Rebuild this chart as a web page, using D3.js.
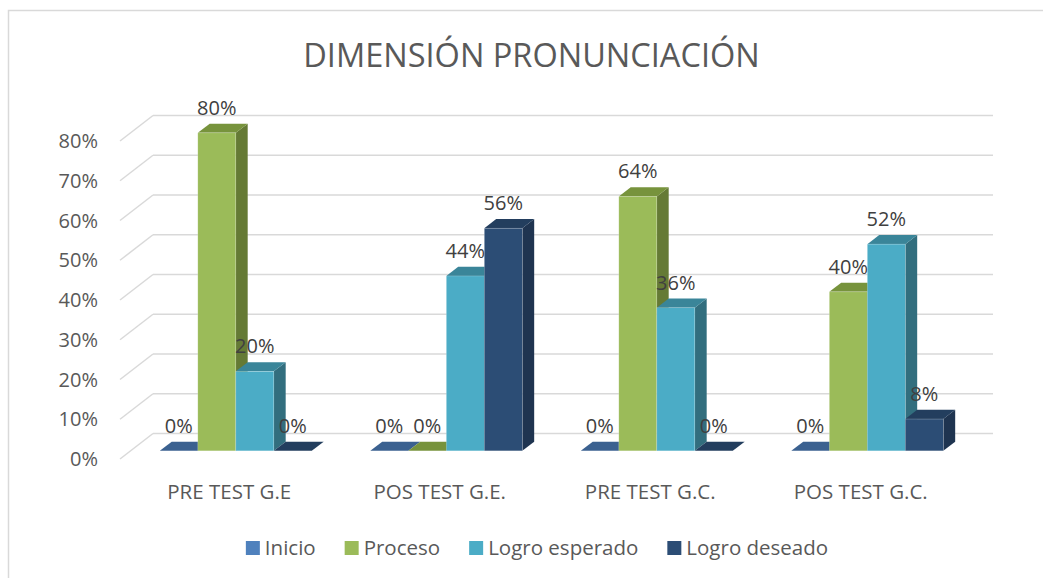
<!DOCTYPE html>
<html>
<head>
<meta charset="utf-8">
<script src="https://cdn.jsdelivr.net/npm/d3@7"></script>
<style>
  body{margin:0;background:#fff;}
  svg text{font-family:"Open Sans",sans-serif;}
</style>
</head>
<body>
<div id="chart"></div>
<script>
// data
var categories = ["PRE TEST G.E", "POS TEST G.E.", "PRE TEST G.C.", "POS TEST G.C."];
var seriesNames = ["Inicio", "Proceso", "Logro esperado", "Logro deseado"];
var inicio        = [0, 0, 0, 0];
var proceso       = [0.80, 0, 0.64, 0.40];
var logroEsperado = [0.20, 0.44, 0.36, 0.52];
var logroDeseado  = [0, 0.56, 0, 0.08];
var yTicks = [0, 0.1, 0.2, 0.3, 0.4, 0.5, 0.6, 0.7, 0.8];

var seriesValues = [inicio, proceso, logroEsperado, logroDeseado];
// front, top, side
var colors = [
    ["#4F81BD", "#3B6190", "#2F4F75"],
    ["#9BBB59", "#77933C", "#657A35"],
    ["#4BACC6", "#3A8599", "#326E7E"],
    ["#2C4D75", "#233E5E", "#1F3450"]
];

var width = 1043, height = 578;
var depthX = 33, depthY = -25.5;     // full floor depth
var barZ0 = 0.32, barZ1 = 0.68;      // bar front / back in depth

var svg = d3.select("#chart").append("svg")
    .attr("width", width).attr("height", height);

// chart border
svg.append("rect")
    .attr("x", 8.5).attr("y", 10.5)
    .attr("width", 1100).attr("height", 600)
    .attr("fill", "none").attr("stroke", "#d9d9d9").attr("stroke-width", 1.5);

// title
svg.append("text")
    .attr("x", 531.5).attr("y", 67)
    .attr("text-anchor", "middle")
    .attr("font-size", 32.5)
    .attr("fill", "#595959")
    .text("DIMENSIÓN PRONUNCIACIÓN");

var x0 = d3.scaleBand().domain(categories).range([120, 962]);
var x1 = d3.scaleBand().domain(seriesNames).range([0, x0.bandwidth()]).paddingOuter(0.77);
var y = d3.scaleLinear().domain([0, 0.8]).range([459, 141]);

// walls: side wall diagonals + back wall horizontals
var grid = svg.append("g");
yTicks.forEach(function(t){
    grid.append("line")
        .attr("x1", 120).attr("y1", y(t))
        .attr("x2", 120 + depthX).attr("y2", y(t) + depthY)
        .attr("stroke", "#d9d9d9").attr("stroke-width", 1.5);
    grid.append("line")
        .attr("x1", 120 + depthX).attr("y1", y(t) + depthY)
        .attr("x2", 993).attr("y2", y(t) + depthY)
        .attr("stroke", "#d9d9d9").attr("stroke-width", 1.5);
});

// y axis labels
svg.append("g").selectAll("text")
    .data(yTicks).enter().append("text")
    .attr("x", 98).attr("y", function(d){ return y(d); })
    .attr("dy", "0.35em")
    .attr("text-anchor", "end")
    .attr("font-size", 20)
    .attr("fill", "#595959")
    .text(d3.format(".0%"));

// category labels
svg.append("g").selectAll("text")
    .data(categories).enter().append("text")
    .attr("x", function(d){ return x0(d) + x0.bandwidth() / 2 + 4; })
    .attr("y", 492).attr("dy", "0.35em")
    .attr("text-anchor", "middle")
    .attr("font-size", 20.5)
    .attr("fill", "#595959")
    .text(function(d){ return d; });

// bars
var bars = svg.append("g");
var labels = svg.append("g");
var fdx = depthX * barZ0, fdy = depthY * barZ0;
var bdx = depthX * (barZ1 - barZ0), bdy = depthY * (barZ1 - barZ0);
categories.forEach(function(cat, ci){
    seriesNames.forEach(function(s, si){
        var v = seriesValues[si][ci];
        var xa = x0(cat) + x1(s) + fdx, xb = xa + x1.bandwidth();
        var yb = y(0) + fdy, yt = y(v) + fdy;
        var c = colors[si];
        // side
        bars.append("path")
            .attr("d", "M" + xb + "," + yt + "L" + (xb + bdx) + "," + (yt + bdy) +
                "L" + (xb + bdx) + "," + (yb + bdy) + "L" + xb + "," + yb + "Z")
            .attr("fill", c[2]);
        // top
        bars.append("path")
            .attr("d", "M" + xa + "," + yt + "L" + xb + "," + yt +
                "L" + (xb + bdx) + "," + (yt + bdy) + "L" + (xa + bdx) + "," + (yt + bdy) + "Z")
            .attr("fill", c[1]);
        // front
        if (v > 0) {
            bars.append("rect")
                .attr("x", xa).attr("y", yt)
                .attr("width", xb - xa).attr("height", yb - yt)
                .attr("fill", c[0])
                .attr("stroke", "rgba(255,255,255,0.35)").attr("stroke-width", 0.6);
        }
        labels.append("text")
            .attr("x", (xa + xb) / 2).attr("y", yt - 25)
            .attr("dy", "0.35em")
            .attr("text-anchor", "middle")
            .attr("font-size", 20)
            .attr("fill", "#404040")
            .text(d3.format(".0%")(v));
    });
});

// legend
var legend = svg.append("g");
var lx = 0;
seriesNames.forEach(function(s, si){
    var item = legend.append("g").attr("transform", "translate(" + lx + ",0)");
    item.append("rect")
        .attr("x", 0).attr("y", 541).attr("width", 14).attr("height", 14)
        .attr("fill", colors[si][0]);
    var t = item.append("text")
        .attr("x", 19).attr("y", 548).attr("dy", "0.35em")
        .attr("font-size", 20.5)
        .attr("fill", "#595959")
        .text(s);
    lx += 19 + t.node().getComputedTextLength() + 29;
});
lx -= 29;
legend.attr("transform", "translate(" + (537 - lx / 2) + ",0)");
</script>
</body>
</html>
